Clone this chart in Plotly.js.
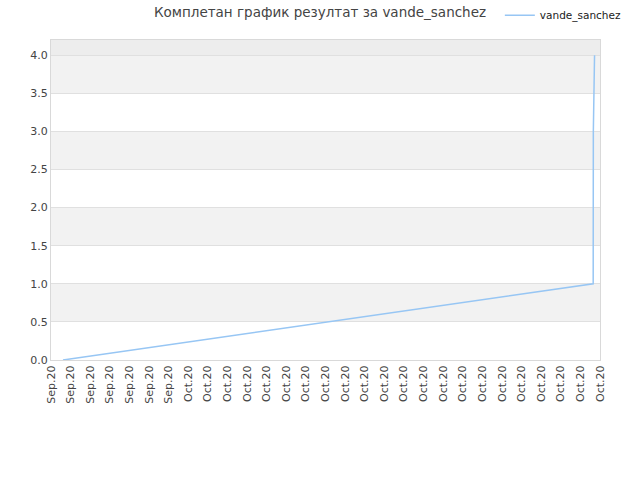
<!DOCTYPE html>
<html>
<head>
<meta charset="utf-8">
<script src="https://cdn.plot.ly/plotly-3.0.1.min.js"></script>
<style>html,body{margin:0;padding:0;background:#fff}#chart{width:640px;height:480px}</style>
</head>
<body>
<div id="chart"></div>
<script>
// Data
const seriesName = "vande_sanchez";
const xDates = ["2020-09-24 14:40", "2020-10-21 15:40", "2020-10-21 15:50", "2020-10-21 17:20"];
const yValues = [0, 1, 3, 4];
const xRange = ["2020-09-24", "2020-10-22"];
const yTicks = [0, 0.5, 1, 1.5, 2, 2.5, 3, 3.5, 4];
const bandStarts = [0.5, 1.5, 2.5, 3.5];
const chartTitle = "Комплетан график резултат за vande_sanchez";

const shapes = bandStarts.map(b => ({
  type: 'rect', xref: 'paper', yref: 'y', x0: 0, x1: 1, y0: b, y1: b + 0.5,
  fillcolor: '#f2f2f2', line: {width: 0}, layer: 'below'
}));
shapes.push({type: 'rect', xref: 'paper', yref: 'y', x0: 0, x1: 1, y0: 4, y1: 4.2,
  fillcolor: '#ededed', line: {width: 0}, layer: 'below'});

const trace = {
  x: xDates, y: yValues, type: 'scatter', mode: 'lines', name: seriesName,
  line: {color: '#97c6f4', width: 1.5}
};

const layout = {
  width: 640, height: 480,
  margin: {l: 51, r: 40, t: 40, b: 120},
  paper_bgcolor: '#ffffff', plot_bgcolor: '#ffffff',
  font: {family: 'DejaVu Sans, Verdana, sans-serif', size: 11, color: '#444'},
  title: {text: chartTitle, x: 0.5, xanchor: 'center', y: 0.975, yanchor: 'middle',
          font: {size: 13.5, color: '#444'}},
  showlegend: true,
  legend: {xref: 'container', yref: 'container', x: 0.781, xanchor: 'left', y: 0.968, yanchor: 'middle',
           orientation: 'h', font: {size: 10.5, color: '#222'}, bgcolor: 'rgba(0,0,0,0)'},
  xaxis: {
    type: 'date', range: xRange, dtick: 86400000, tick0: xRange[0],
    tickformat: '%b.%y', tickangle: -90, showgrid: false, zeroline: false,
    showline: true, linecolor: '#d9d9d9', linewidth: 1, mirror: true,
    ticks: '', tickfont: {size: 11, color: '#444'}
  },
  yaxis: {
    range: [0, 4.2], tickvals: yTicks, tickformat: '.1f',
    showgrid: true, gridcolor: '#e0e0e0', gridwidth: 1, zeroline: false,
    showline: true, linecolor: '#d9d9d9', linewidth: 1, mirror: true,
    ticks: '', tickfont: {size: 11, color: '#444'}
  },
  shapes: shapes
};

Plotly.newPlot('chart', [trace], layout, {staticPlot: true, displayModeBar: false});
</script>
</body>
</html>
